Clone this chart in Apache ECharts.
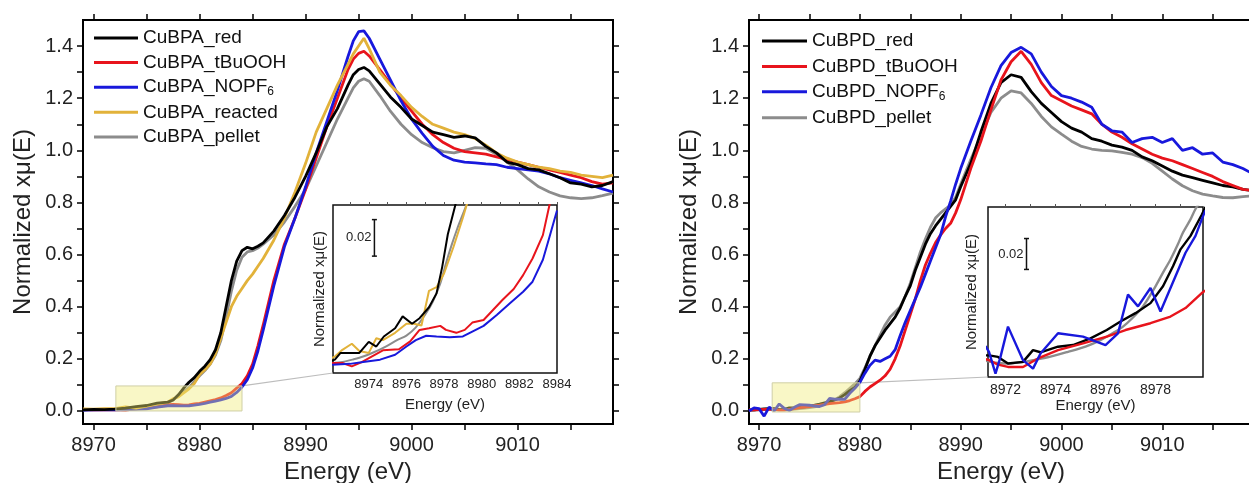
<!DOCTYPE html>
<html><head><meta charset="utf-8">
<script src="https://cdn.jsdelivr.net/npm/echarts@6/dist/echarts.min.js"></script>
<style>html,body{margin:0;padding:0;background:#fff}#c{width:1249px;height:483px}</style>
</head><body><div id="c"></div>
<script>
// ---------- DATA ----------
// Left panel (CuBPA), energy grid (eV)
const E_A = [8969,8970,8971,8972,8973,8974,8975,8976,8977,
  8977.5,8978,8978.5,8979,8979.5,8980,8980.5,8981,8981.5,8982,8982.5,8983,8983.5,8984,8984.5,8985,8985.5,8986,
  8987,8988,8989,8990,8991,8992,8993,8994,
  8994.5,8995,8995.5,8996,
  8997,8998,8999,9000,9001,9002,9003,9004,9005,9006,9007,9008,9009,9010,9011,9012,9013,9014,9015,9016,9017,9018,9019];
const A_RED = [0.004,0.006,0.005,0.007,0.011,0.017,0.021,0.030,0.034,
  0.042,0.062,0.088,0.11,0.128,0.152,0.172,0.197,0.235,0.30,0.40,0.50,0.575,0.615,0.628,0.622,0.632,0.645,
  0.69,0.75,0.82,0.90,0.99,1.09,1.16,1.25,
  1.29,1.31,1.318,1.305,
  1.255,1.205,1.165,1.12,1.095,1.07,1.06,1.05,1.055,1.048,1.015,0.99,0.955,0.945,0.93,0.925,0.91,0.895,0.875,0.87,0.86,0.865,0.88];
const A_TBU = [0.005,0.004,0.004,0.005,0.0036,0.008,0.0127,0.016,0.024,
  0.025,0.024,0.022,0.023,0.027,0.029,0.034,0.039,0.044,0.05,0.059,0.07,0.088,0.105,0.135,0.18,0.25,0.33,
  0.50,0.64,0.74,0.85,0.97,1.09,1.20,1.31,
  1.35,1.372,1.38,1.362,
  1.31,1.255,1.20,1.15,1.10,1.06,1.03,1.008,0.995,0.99,0.985,0.975,0.965,0.955,0.945,0.935,0.925,0.915,0.905,0.895,0.88,0.87,0.875];
const A_NOP = [0.003,0.004,0.004,0.0045,0.005,0.0065,0.0085,0.0145,0.020,
  0.020,0.0198,0.0196,0.020,0.0227,0.0255,0.029,0.0335,0.038,0.0425,0.048,0.056,0.071,0.092,0.12,0.165,0.23,0.31,
  0.48,0.63,0.74,0.86,0.99,1.11,1.23,1.36,
  1.42,1.455,1.458,1.43,
  1.35,1.27,1.19,1.12,1.065,1.015,0.98,0.962,0.955,0.952,0.948,0.945,0.935,0.93,0.925,0.92,0.91,0.895,0.885,0.875,0.865,0.852,0.84];
const A_REA = [0.008,0.007,0.009,0.009,0.016,0.011,0.019,0.027,0.034,
  0.047,0.054,0.069,0.085,0.105,0.14,0.158,0.18,0.22,0.28,0.34,0.40,0.44,0.47,0.50,0.525,0.555,0.585,
  0.655,0.74,0.84,0.95,1.07,1.16,1.25,1.33,
  1.37,1.40,1.43,1.39,
  1.30,1.25,1.21,1.165,1.13,1.10,1.085,1.07,1.06,1.045,1.02,0.99,0.97,0.955,0.945,0.935,0.93,0.92,0.915,0.905,0.90,0.895,0.905];
const A_PEL = [0.003,0.004,0.005,0.005,0.007,0.011,0.015,0.021,0.032,
  0.042,0.058,0.074,0.09,0.112,0.135,0.155,0.18,0.215,0.27,0.36,0.46,0.54,0.59,0.61,0.615,0.625,0.64,
  0.675,0.725,0.785,0.85,0.94,1.03,1.12,1.20,
  1.24,1.265,1.275,1.265,
  1.21,1.15,1.10,1.06,1.03,1.01,0.995,0.99,1.0,1.01,1.008,0.985,0.955,0.925,0.89,0.86,0.84,0.825,0.818,0.815,0.818,0.826,0.836];

// Left inset, [energy, value] pairs
const AI_RED = [[8972.0,0.0065],[8972.2,0.0073],[8972.5,0.011],[8973.0,0.011],[8973.5,0.011],[8974.0,0.017],[8974.4,0.0145],[8974.8,0.020],[8975.4,0.0245],[8975.8,0.031],[8976.3,0.027],[8976.7,0.030],[8977.2,0.036],[8977.6,0.0436],[8977.9,0.058],[8978.2,0.076],[8978.6,0.092],[8978.8,0.1]];
const AI_REA = [[8972.0,0.008],[8972.2,0.009],[8972.6,0.0127],[8973.1,0.016],[8973.5,0.012],[8974.0,0.011],[8974.4,0.019],[8974.75,0.018],[8975.4,0.022],[8976.0,0.027],[8976.4,0.027],[8976.8,0.026],[8977.2,0.045],[8977.6,0.047],[8978.0,0.0545],[8978.5,0.069],[8979.0,0.085],[8979.2,0.092],[8979.4,0.1]];
const AI_PEL = [[8972.0,0.0053],[8972.6,0.006],[8973.2,0.0075],[8973.7,0.009],[8974.3,0.0115],[8974.9,0.0145],[8975.5,0.018],[8976.0,0.0205],[8976.5,0.025],[8977.0,0.032],[8977.4,0.039],[8977.8,0.049],[8978.1,0.060],[8978.4,0.070],[8978.7,0.079],[8979.0,0.087],[8979.3,0.095]];
const AI_TBU = [[8972.0,0.0055],[8972.6,0.0055],[8973.1,0.0036],[8973.6,0.0058],[8974.75,0.0124],[8975.6,0.013],[8976.2,0.0173],[8976.7,0.0236],[8977.2,0.0245],[8977.8,0.0258],[8978.1,0.0236],[8978.65,0.022],[8979.1,0.0236],[8979.5,0.0276],[8980.1,0.029],[8980.6,0.0345],[8981.1,0.040],[8981.7,0.046],[8982.2,0.0536],[8982.7,0.0627],[8983.25,0.0755],[8983.6,0.092],[8983.8,0.1]];
const AI_NOP = [[8972.0,0.0045],[8973.0,0.005],[8973.7,0.006],[8974.6,0.0073],[8975.4,0.010],[8976.0,0.0145],[8976.5,0.018],[8977.05,0.0204],[8977.6,0.020],[8978.3,0.0196],[8979.0,0.020],[8979.5,0.0227],[8980.1,0.0258],[8980.8,0.0318],[8981.5,0.0382],[8982.2,0.0445],[8982.7,0.05],[8983.25,0.062],[8983.6,0.0745],[8984.0,0.089]];

// Right panel (CuBPD), energy grid (eV)
const E_B = [8969,8969.5,8970,8970.5,8971,8971.5,8972,8972.5,8973,8973.5,
  8974,8974.5,8975,8975.5,8976,8976.5,8977,8977.5,8978,8978.5,8979,8979.5,
  8980,8980.5,8981,8981.5,8982,8982.5,8983,8983.5,8984,8984.5,8985,8985.5,8986,8986.5,8987,8987.5,8988,8988.5,8989,8989.5,8990,
  8991,8992,8993,8994,8995,8996,8997,8998,8999,9000,9001,9002,9003,9004,9005,9006,9007,9008,9009,9010,9011,9012,9013,9014,9015,9016,9017,9018,9019];
const B_RED = [0.003,0.004,0.006,0.008,0.009,0.009,0.005,0.006,0.012,0.013,
  0.015,0.016,0.019,0.022,0.026,0.031,0.036,0.042,0.05,0.063,0.078,0.09,
  0.115,0.16,0.21,0.25,0.28,0.31,0.335,0.36,0.395,0.44,0.48,0.54,0.59,0.64,0.68,0.71,0.735,0.76,0.785,0.81,0.86,
  0.95,1.07,1.18,1.26,1.29,1.28,1.225,1.18,1.145,1.11,1.085,1.07,1.045,1.035,1.02,1.012,1.0,0.975,0.96,0.94,0.92,0.905,0.895,0.885,0.875,0.865,0.86,0.85,0.845];
const B_TBU = [0.004,0.004,0.005,0.006,0.006,0.006,0.003,0.003,0.006,0.009,
  0.013,0.015,0.017,0.02,0.022,0.025,0.028,0.030,0.032,0.035,0.04,0.047,
  0.055,0.075,0.092,0.105,0.118,0.135,0.16,0.20,0.25,0.31,0.37,0.43,0.50,0.56,0.605,0.645,0.675,0.70,0.72,0.76,0.81,
  0.93,1.035,1.155,1.27,1.34,1.38,1.33,1.26,1.21,1.19,1.17,1.155,1.14,1.10,1.07,1.05,1.025,1.005,0.985,0.97,0.96,0.945,0.93,0.915,0.90,0.88,0.865,0.85,0.845];
const B_NOP = [0.0,0.012,0.009,-0.02,0.015,0.0,0.027,0.01,0.002,0.014,
  0.024,0.023,0.022,0.019,0.017,0.024,0.048,0.045,0.045,0.045,0.068,0.087,
  0.11,0.145,0.175,0.195,0.19,0.2,0.21,0.235,0.29,0.34,0.385,0.43,0.475,0.525,0.575,0.625,0.675,0.745,0.805,0.87,0.93,
  1.035,1.135,1.24,1.325,1.375,1.395,1.37,1.30,1.245,1.21,1.20,1.185,1.165,1.10,1.075,1.07,1.03,1.045,1.05,1.03,1.045,1.0,1.01,0.985,0.99,0.955,0.945,0.93,0.91];
const B_PEL = [0.003,0.003,0.004,0.005,0.006,0.006,0.005,0.005,0.006,0.007,
  0.009,0.011,0.013,0.016,0.02,0.025,0.032,0.042,0.055,0.07,0.087,0.104,
  0.125,0.165,0.21,0.25,0.29,0.33,0.36,0.38,0.40,0.44,0.49,0.55,0.61,0.66,0.705,0.74,0.76,0.775,0.79,0.82,0.87,
  0.965,1.055,1.145,1.20,1.228,1.22,1.18,1.13,1.09,1.062,1.035,1.015,1.005,1.0,0.998,0.992,0.985,0.972,0.95,0.92,0.89,0.864,0.845,0.832,0.825,0.819,0.818,0.822,0.826];

// Right inset, [energy, value] pairs
const BI_NOP = [[8971.2,0.016],[8971.34,0.0123],[8971.6,-0.0018],[8971.8,0.009],[8972.1,0.0286],[8972.7,0.0069],[8973.1,0.0014],[8973.4,0.0112],[8974.1,0.0243],[8975.1,0.0221],[8976.0,0.0167],[8976.5,0.0243],[8976.9,0.0493],[8977.3,0.0417],[8977.8,0.0536],[8978.2,0.0384],[8978.8,0.0612],[8979.2,0.0764],[8979.6,0.0873],[8979.85,0.098],[8980.0,0.104]];
const BI_RED = [[8971.2,0.010],[8971.34,0.010],[8971.7,0.009],[8972.1,0.0047],[8972.7,0.0058],[8973.1,0.0134],[8973.4,0.012],[8974.1,0.0156],[8974.7,0.0167],[8975.4,0.021],[8976.05,0.0264],[8976.6,0.0319],[8977.2,0.0373],[8977.8,0.0438],[8978.3,0.0547],[8978.7,0.0677],[8979.0,0.0786],[8979.4,0.0873],[8979.85,0.101],[8980.0,0.106]];
const BI_PEL = [[8971.2,0.0065],[8971.6,0.0052],[8972.0,0.0047],[8972.6,0.0055],[8973.1,0.0069],[8973.8,0.0092],[8974.5,0.0123],[8975.2,0.0157],[8975.8,0.0199],[8976.3,0.0245],[8976.7,0.0286],[8977.1,0.0345],[8977.5,0.0417],[8978.0,0.0547],[8978.3,0.0635],[8978.6,0.072],[8978.9,0.082],[8979.1,0.0895],[8979.4,0.098],[8979.6,0.1047],[8979.9,0.112]];
const BI_TBU = [[8971.2,0.0075],[8971.34,0.0069],[8971.7,0.004],[8972.1,0.0025],[8972.7,0.0025],[8973.3,0.008],[8974.1,0.0134],[8975.1,0.0177],[8976.05,0.0221],[8976.8,0.0264],[8977.8,0.0308],[8978.6,0.0351],[8979.2,0.0406],[8979.85,0.0503],[8980.0,0.052]];

// Axes: ranges and tick labels
const X_RANGE = [8969, 9019];
const Y_RANGE = [-0.05, 1.5];
const X_LABELS = [8970, 8980, 8990, 9000, 9010];
const X_TICKS = [8970, 8975, 8980, 8985, 8990, 8995, 9000, 9005, 9010, 9015];
const Y_LABELS = [0, 0.2, 0.4, 0.6, 0.8, 1.0, 1.2, 1.4];
const Y_TICKS = [0, 0.1, 0.2, 0.3, 0.4, 0.5, 0.6, 0.7, 0.8, 0.9, 1.0, 1.1, 1.2, 1.3, 1.4];
const INSET_A_X = [8972.1, 8984];
const INSET_A_Y = [0, 0.092];
const INSET_A_LABELS = [8974, 8976, 8978, 8980, 8982, 8984];
const INSET_A_TICKS = [8973, 8974, 8975, 8976, 8977, 8978, 8979, 8980, 8981, 8982, 8983, 8984];
const INSET_B_X = [8971.3, 8979.9];
const INSET_B_Y = [-0.004, 0.106];
const INSET_B_LABELS = [8972, 8974, 8976, 8978];
const INSET_B_TICKS = [8972, 8973, 8974, 8975, 8976, 8977, 8978, 8979];
// zoom boxes [x0, x1, y0, y1] and scale bars [x, y0, length]
const BOX_A = [8972.1, 8984, 0, 0.096];
const BOX_B = [8971.3, 8980, -0.004, 0.108];
const SCALE_A = [8974.3, 0.064, 0.02];
const SCALE_B = [8972.84, 0.0656, 0.02];

// ---------- CHART ----------
const FONT = '"Liberation Sans", Arial, Helvetica, sans-serif';
const COL = {red:'#000000', tbu:'#e8141c', nop:'#1818dc', rea:'#e2b23a', pel:'#8c8c8c'};
const NAMES_A = ['CuBPA_red','CuBPA_tBuOOH','CuBPA_NOPF₆','CuBPA_reacted','CuBPA_pellet'];
const NAMES_B = ['CuBPD_red','CuBPD_tBuOOH','CuBPD_NOPF₆','CuBPD_pellet'];

const chart = echarts.init(document.getElementById('c'), null, {renderer:'canvas'});

function zip(E, V){ return E.map((e,i)=>[e, V[i]]); }
function line(name, data, color, xi, yi, w, smooth){
  return {type:'line', name, xAxisIndex:xi, yAxisIndex:yi, data, showSymbol:false, symbol:'none',
    smooth: smooth || false, lineStyle:{color, width:w}, itemStyle:{color}, silent:true, clip:true, animation:false, z:3};
}
function mainX(grid, pos, labels){
  return {type:'value', gridIndex:grid, position:pos, min:X_RANGE[0], max:X_RANGE[1],
    name: labels ? 'Energy (eV)' : '', nameLocation:'middle', nameGap:33,
    nameTextStyle:{fontSize:24, color:'#222', fontFamily:FONT},
    axisLine:{show:false, onZero:false}, splitLine:{show:false},
    axisTick:{show:true, inside:false, length:6, customValues:X_TICKS, lineStyle:{color:'#000', width:1.5}},
    axisLabel:{show:labels, customValues:X_LABELS, formatter:v=>String(v), fontSize:20, color:'#222', fontFamily:FONT, margin:11}};
}
function mainY(grid, pos, labels){
  return {type:'value', gridIndex:grid, position:pos, min:Y_RANGE[0], max:Y_RANGE[1],
    name: labels ? 'Normalized xμ(E)' : '', nameLocation:'middle', nameRotate:90, nameGap:48,
    nameTextStyle:{fontSize:24, color:'#222', fontFamily:FONT},
    axisLine:{show:false, onZero:false}, splitLine:{show:false},
    axisTick:{show:true, inside:false, length:6, customValues:Y_TICKS, lineStyle:{color:'#000', width:1.5}},
    axisLabel:{show:labels, customValues:Y_LABELS, formatter:v=>Number(v).toFixed(1), fontSize:20, color:'#222', fontFamily:FONT, margin:10}};
}
function insetX(grid, range, labels, ticks, fs, gap, margin){
  return [{type:'value', gridIndex:grid, position:'bottom', min:range[0], max:range[1],
    name:'Energy (eV)', nameLocation:'middle', nameGap:gap, nameTextStyle:{fontSize:15, color:'#222', fontFamily:FONT},
    axisLine:{show:false, onZero:false}, splitLine:{show:false}, axisTick:{show:false},
    axisLabel:{customValues:labels, formatter:v=>String(v), fontSize:fs, color:'#222', fontFamily:FONT, margin:margin}},
   {type:'value', gridIndex:grid, position:'top', min:range[0], max:range[1],
    axisLine:{show:false, onZero:false}, splitLine:{show:false},
    axisTick:{show:true, inside:false, length:3, customValues:ticks, lineStyle:{color:'#555', width:1}},
    axisLabel:{show:false}}];
}
function insetY(grid, range, gap){
  return {type:'value', gridIndex:grid, position:'left', min:range[0], max:range[1],
    name:'Normalized xμ(E)', nameLocation:'middle', nameRotate:90, nameGap:gap,
    nameTextStyle:{fontSize:15, color:'#222', fontFamily:FONT},
    axisLine:{show:false, onZero:false}, splitLine:{show:false}, axisTick:{show:false}, axisLabel:{show:false}};
}
function boxSeries(xi, yi, box){
  return {type:'custom', xAxisIndex:xi, yAxisIndex:yi, data:[box], silent:true, clip:false, z:6, animation:false,
    renderItem:(p, api)=>{
      const a = api.coord([api.value(0), api.value(3)]);
      const b = api.coord([api.value(1), api.value(2)]);
      return {type:'rect', shape:{x:a[0], y:a[1], width:b[0]-a[0], height:b[1]-a[1]},
        style:{fill:'rgba(240,236,120,0.42)', stroke:'#cfcfa6', lineWidth:1}};
    }};
}
function scaleSeries(xi, yi, bar){
  return {type:'custom', xAxisIndex:xi, yAxisIndex:yi, data:[bar], silent:true, clip:false, z:6, animation:false,
    renderItem:(p, api)=>{
      const x = api.value(0), y0 = api.value(1), len = api.value(2);
      const a = api.coord([x, y0]);
      const b = api.coord([x, y0+len]);
      const st = {stroke:'#111', lineWidth:1.5};
      return {type:'group', children:[
        {type:'line', shape:{x1:a[0], y1:a[1], x2:b[0], y2:b[1]}, style:st},
        {type:'line', shape:{x1:a[0]-2.5, y1:a[1], x2:a[0]+2.5, y2:a[1]}, style:st},
        {type:'line', shape:{x1:b[0]-2.5, y1:b[1], x2:b[0]+2.5, y2:b[1]}, style:st},
        {type:'text', style:{text:String(len), x:a[0]-3, y:(a[1]+b[1])/2, align:'right', verticalAlign:'middle',
          fontSize:13, fontFamily:FONT, fill:'#222'}}
      ]};
    }};
}
const legendBase = {orient:'vertical', icon:'rect', itemHeight:3, selectedMode:false, padding:0,
  textStyle:{fontSize:19, color:'#111', fontFamily:FONT, lineHeight:20, rich:{s:{fontSize:12, fontFamily:FONT, color:'#111', padding:[9,0,0,0]}}},
  formatter: n => n.replace('₆', '{s|6}')};

const gridBase = {outerBoundsMode:'none', containLabel:false, show:true};
const option = {
  animation:false,
  backgroundColor:'#fff',
  grid:[
    Object.assign({}, gridBase, {left:83, top:20, width:530, height:404, borderColor:'#000', borderWidth:2, backgroundColor:'transparent'}),
    Object.assign({}, gridBase, {left:333, top:205, width:224, height:168, borderColor:'#111', borderWidth:1.5, backgroundColor:'#fff'}),
    Object.assign({}, gridBase, {left:749, top:20, width:504, height:404, borderColor:'#000', borderWidth:2, backgroundColor:'transparent'}),
    Object.assign({}, gridBase, {left:988, top:207, width:215, height:170, borderColor:'#111', borderWidth:1.5, backgroundColor:'#fff'})
  ],
  xAxis:[
    mainX(0,'bottom',true), mainX(0,'top',false),
    ...insetX(1, INSET_A_X, INSET_A_LABELS, INSET_A_TICKS, 13, 24, 5),
    mainX(2,'bottom',true), mainX(2,'top',false),
    ...insetX(3, INSET_B_X, INSET_B_LABELS, INSET_B_TICKS, 14, 21, 6)
  ],
  yAxis:[
    mainY(0,'left',true), mainY(0,'right',false),
    insetY(1, INSET_A_Y, 6),
    mainY(2,'left',true), mainY(2,'right',false),
    insetY(3, INSET_B_Y, 9)
  ],
  legend:[
    Object.assign({}, legendBase, {left:94, top:28, itemWidth:44, itemGap:4.6, data:NAMES_A}),
    Object.assign({}, legendBase, {left:762, top:31, itemWidth:45, itemGap:5.4, data:NAMES_B})
  ],
  series:[
    // left main
    line(NAMES_A[4], zip(E_A, A_PEL), COL.pel, 0, 0, 2.8),
    line(NAMES_A[1], zip(E_A, A_TBU), COL.tbu, 0, 0, 2.8),
    line(NAMES_A[2], zip(E_A, A_NOP), COL.nop, 0, 0, 2.8),
    line(NAMES_A[3], zip(E_A, A_REA), COL.rea, 0, 0, 2.8),
    line(NAMES_A[0], zip(E_A, A_RED), COL.red, 0, 0, 2.8),
    boxSeries(0, 0, BOX_A),
    // left inset
    line(NAMES_A[4], AI_PEL, COL.pel, 2, 2, 2, 0.3),
    line(NAMES_A[1], AI_TBU, COL.tbu, 2, 2, 2),
    line(NAMES_A[2], AI_NOP, COL.nop, 2, 2, 2),
    line(NAMES_A[3], AI_REA, COL.rea, 2, 2, 2),
    line(NAMES_A[0], AI_RED, COL.red, 2, 2, 2),
    scaleSeries(2, 2, SCALE_A),
    // right main
    line(NAMES_B[3], zip(E_B, B_PEL), COL.pel, 4, 3, 2.8),
    line(NAMES_B[0], zip(E_B, B_RED), COL.red, 4, 3, 2.8),
    line(NAMES_B[1], zip(E_B, B_TBU), COL.tbu, 4, 3, 2.8),
    line(NAMES_B[2], zip(E_B, B_NOP), COL.nop, 4, 3, 2.8),
    boxSeries(4, 3, BOX_B),
    // right inset
    line(NAMES_B[3], BI_PEL, COL.pel, 6, 5, 2.4, 0.3),
    line(NAMES_B[0], BI_RED, COL.red, 6, 5, 2.4),
    line(NAMES_B[1], BI_TBU, COL.tbu, 6, 5, 2.4),
    line(NAMES_B[2], BI_NOP, COL.nop, 6, 5, 2.4),
    scaleSeries(6, 5, SCALE_B)
  ]
};
chart.setOption(option);

// connector lines from zoom box corner to inset corner, through the library's scales
const pA1 = chart.convertToPixel({seriesIndex:0}, [BOX_A[1], BOX_A[3]]);
const pA2 = chart.convertToPixel({seriesIndex:6}, [INSET_A_X[0], INSET_A_Y[0]]);
const pB1 = chart.convertToPixel({seriesIndex:12}, [BOX_B[1], BOX_B[3]]);
const pB2 = chart.convertToPixel({seriesIndex:17}, [INSET_B_X[0], INSET_B_Y[0]]);
chart.setOption({graphic:[
  {type:'line', shape:{x1:pA1[0], y1:pA1[1], x2:pA2[0], y2:pA2[1]}, style:{stroke:'#bdbdbd', lineWidth:1.2}, z:1, silent:true},
  {type:'line', shape:{x1:pB1[0], y1:pB1[1], x2:pB2[0], y2:pB2[1]}, style:{stroke:'#bdbdbd', lineWidth:1.2}, z:1, silent:true}
]});
</script></body></html>
